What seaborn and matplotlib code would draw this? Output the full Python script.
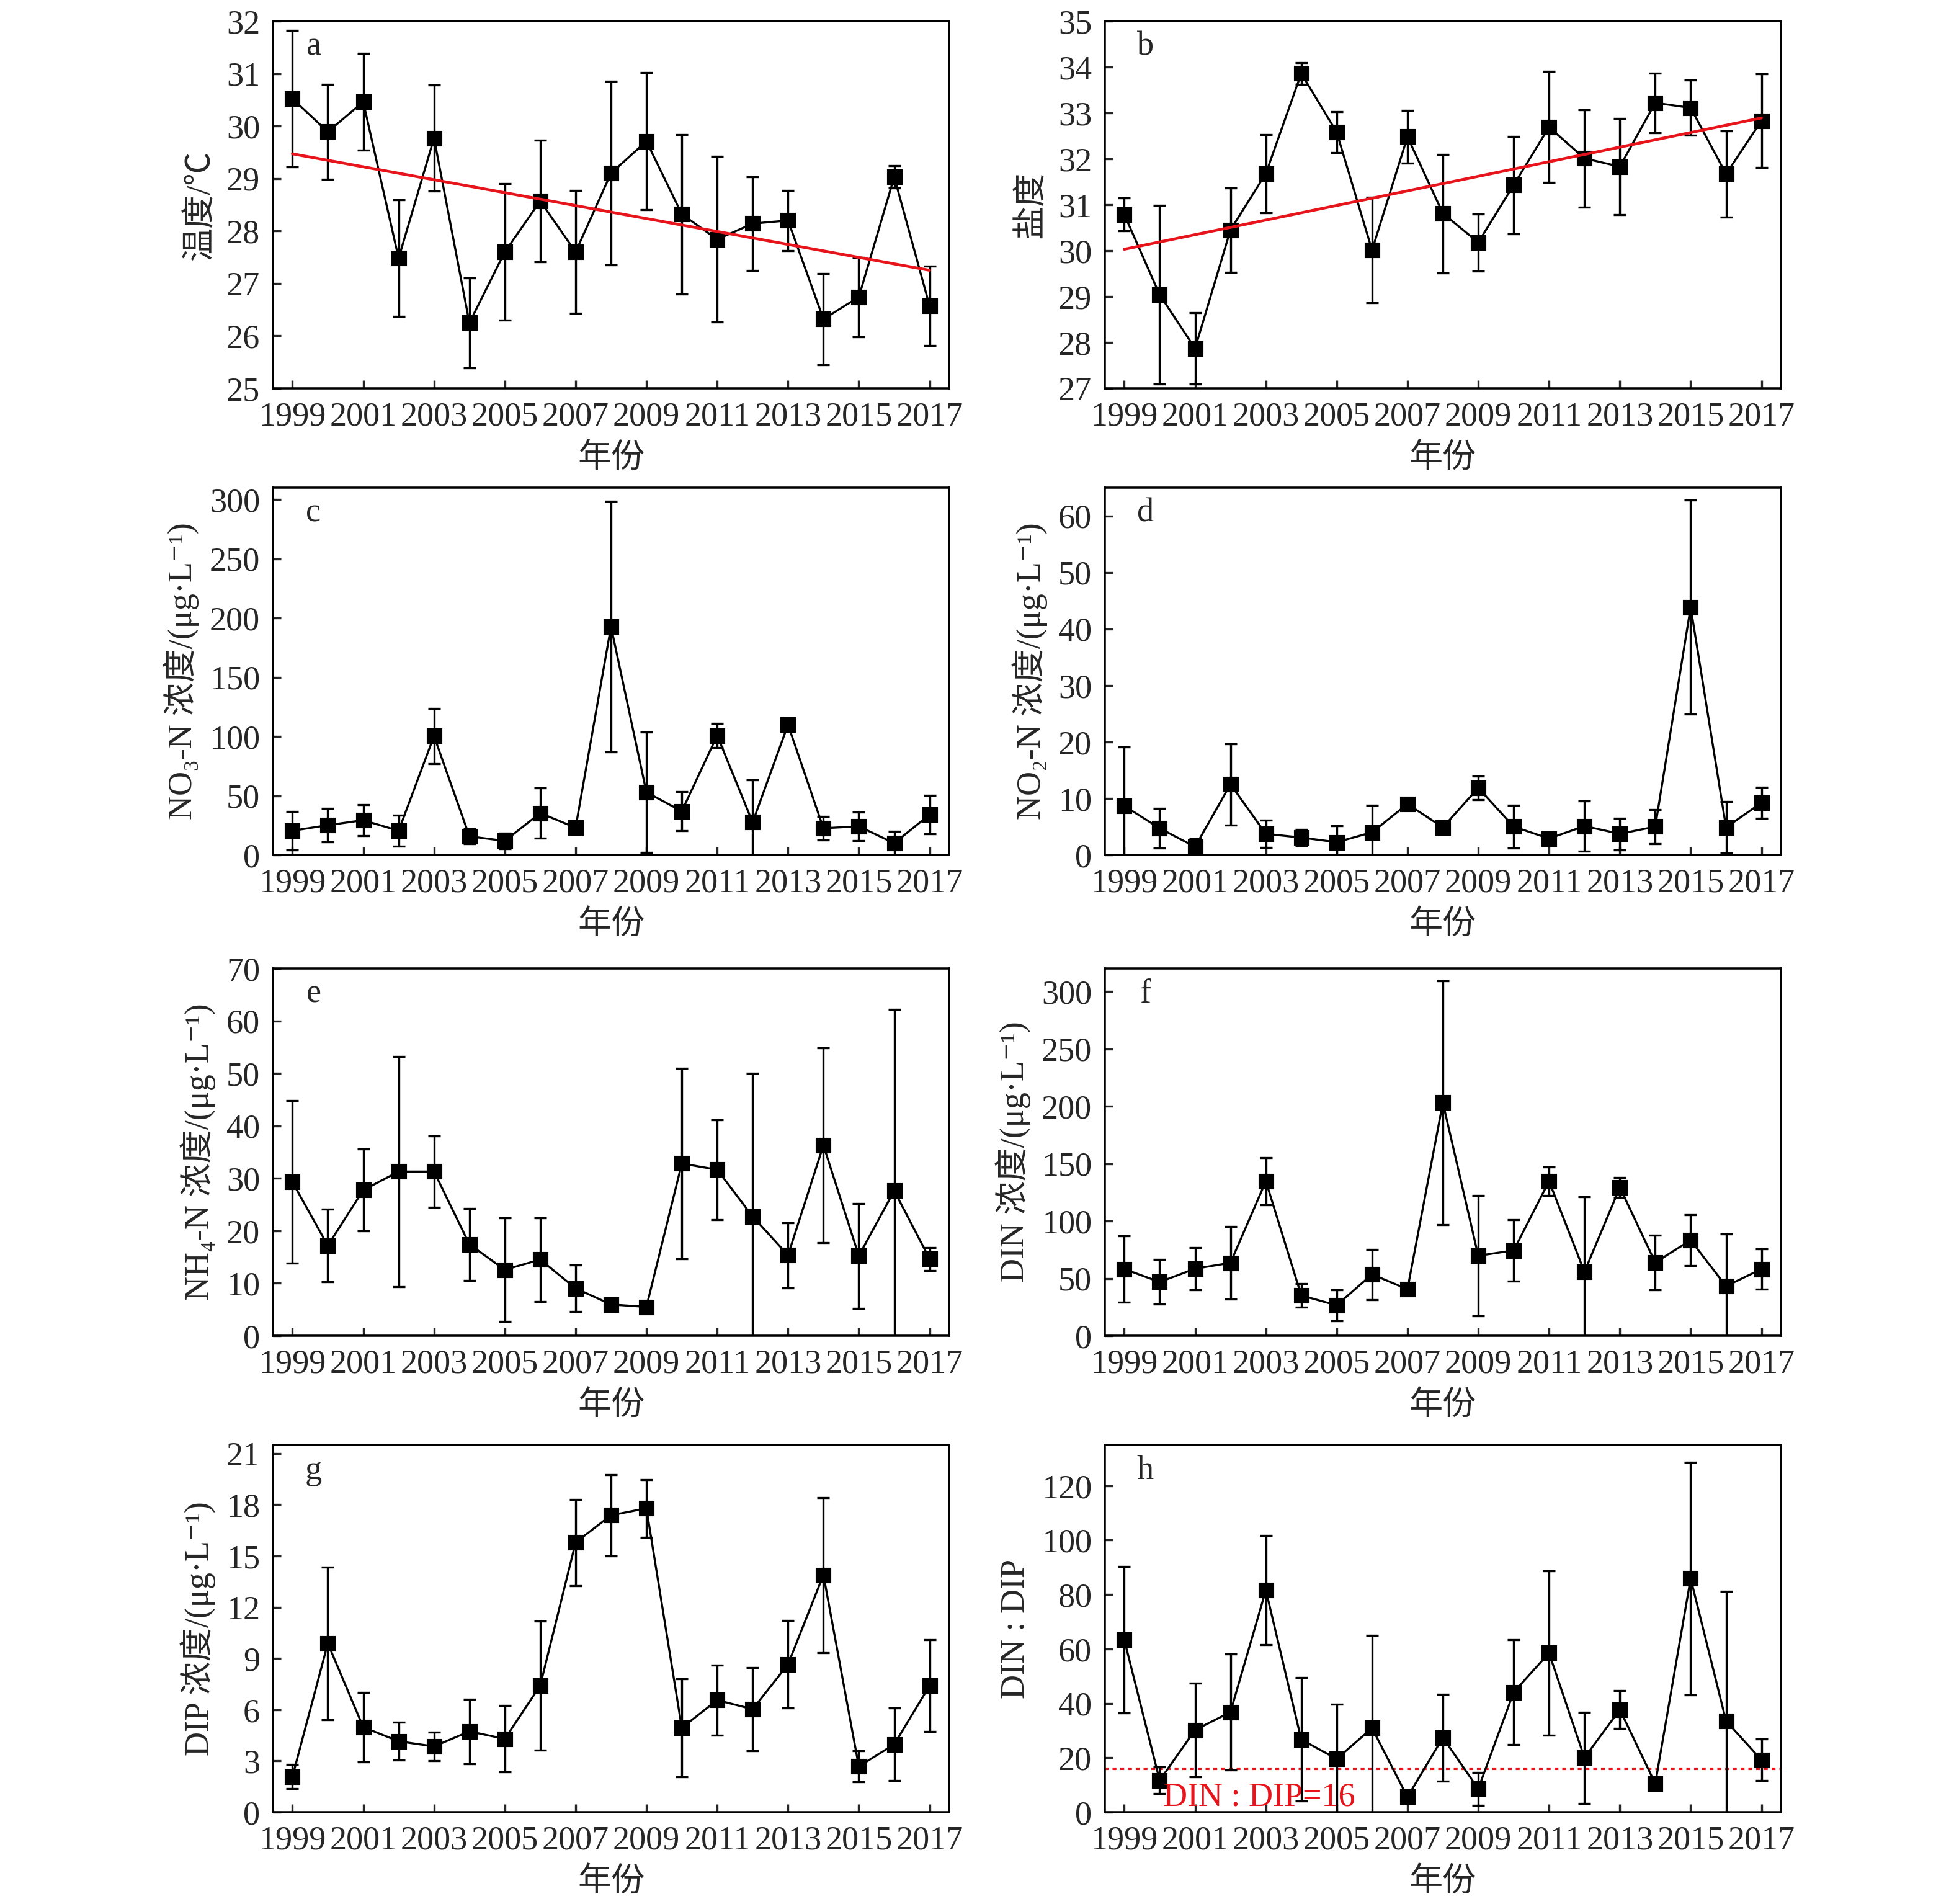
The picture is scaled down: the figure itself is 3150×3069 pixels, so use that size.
import matplotlib
matplotlib.use("Agg")
import numpy as np
import pandas as pd
import matplotlib.pyplot as plt
import seaborn as sns

# ---- data ----
years = list(range(1999, 2018))
year_ticks = list(range(1999, 2018, 2))

temp_mean = [30.52, 29.89, 30.46, 27.48, 29.77, 26.25, 27.60, 28.57, 27.60, 29.10,
             29.71, 28.32, 27.84, 28.14, 28.20, 26.32, 26.74, 29.03, 26.57]
temp_err = [1.30, 0.90, 0.92, 1.11, 1.01, 0.86, 1.30, 1.16, 1.17, 1.75,
            1.31, 1.52, 1.58, 0.89, 0.57, 0.87, 0.76, 0.21, 0.76]
temp_trend = [29.47, 27.25]

sal_mean = [30.79, 29.04, 27.87, 30.45, 31.68, 33.86, 32.58, 30.01, 32.48, 30.81,
            30.18, 31.43, 32.69, 32.01, 31.83, 33.22, 33.11, 31.67, 32.83]
sal_err = [0.36, 1.95, 0.78, 0.92, 0.85, 0.24, 0.45, 1.15, 0.58, 1.29,
           0.62, 1.06, 1.21, 1.06, 1.05, 0.65, 0.60, 0.94, 1.02]
sal_trend = [30.03, 32.89]

no3_mean = [20.4, 25.1, 29.3, 20.4, 100.3, 15.7, 11.8, 35.3, 23.0, 192.7,
            52.9, 36.9, 100.8, 27.5, 109.9, 22.5, 24.1, 9.9, 34.0]
no3_err = [16.0, 14.3, 13.2, 13.0, 23.4, 6.5, 6.5, 21.0, 3.0, 106.0,
           51.0, 16.7, 10.0, 36.0, 3.0, 9.8, 12.0, 9.8, 16.4]

no2_mean = [8.67, 4.72, 1.43, 12.5, 3.73, 3.07, 2.25, 4.0, 9.0, 4.88,
            11.86, 5.0, 2.9, 5.1, 3.73, 5.0, 43.85, 4.88, 9.22]
no2_err = [10.4, 3.5, 1.4, 7.2, 2.45, 1.4, 2.9, 4.8, 0.5, 0.5,
           2.1, 3.8, 0.6, 4.4, 2.8, 3.0, 18.9, 4.6, 2.7]

nh4_mean = [29.28, 17.18, 27.74, 31.29, 31.29, 17.41, 12.57, 14.52, 9.03, 5.96,
            5.49, 32.82, 31.64, 22.73, 15.35, 36.3, 15.23, 27.63, 14.64]
nh4_err = [15.5, 6.9, 7.8, 21.9, 6.8, 6.85, 9.9, 8.0, 4.45, 0.4,
           0.5, 18.1, 9.5, 27.3, 6.2, 18.6, 10.0, 34.6, 2.2]

din_mean = [58.1, 46.8, 58.4, 63.5, 134.6, 35.1, 26.5, 53.5, 40.5, 203.0,
            69.7, 74.3, 134.6, 55.7, 129.2, 63.8, 83.2, 43.2, 58.1]
din_err = [28.8, 19.5, 18.5, 31.8, 20.3, 10.2, 13.5, 21.9, 5.0, 106.0,
           52.5, 27.0, 12.6, 65.4, 8.4, 23.6, 22.0, 45.4, 17.5]

dip_mean = [2.08, 9.88, 4.98, 4.15, 3.85, 4.73, 4.29, 7.41, 15.79, 17.38,
            17.79, 4.94, 6.56, 6.03, 8.65, 13.89, 2.68, 3.97, 7.41]
dip_err = [0.7, 4.48, 2.03, 1.1, 0.84, 1.89, 1.94, 3.77, 2.52, 2.37,
           1.69, 2.87, 2.06, 2.44, 2.56, 4.54, 0.9, 2.12, 2.7]

ratio_mean = [63.4, 11.7, 30.2, 36.8, 81.6, 26.7, 19.6, 30.9, 5.6, 27.4,
              8.6, 44.1, 58.5, 20.0, 37.7, 10.5, 85.9, 33.5, 19.2]
ratio_err = [26.8, 4.9, 17.3, 21.3, 20.0, 22.7, 20.0, 34.0, 2.5, 15.9,
             6.0, 19.3, 30.3, 16.8, 6.9, 1.0, 42.8, 47.7, 7.6]
redfield = 16

ylabels = ["温度/℃", "盐度",
           "NO₃-N 浓度/(μg·L⁻¹)", "NO₂-N 浓度/(μg·L⁻¹)",
           "NH₄-N 浓度/(μg·L⁻¹)", "DIN 浓度/(μg·L⁻¹)",
           "DIP 浓度/(μg·L⁻¹)", "DIN : DIP"]
letters = list("abcdefgh")

sns.set_theme(style="ticks")
plt.rcParams["font.family"] = ["Liberation Serif", "Noto Sans CJK SC", "DejaVu Sans"]
plt.rcParams["axes.unicode_minus"] = False

panels = [
    (temp_mean, temp_err, (25, 32), np.arange(25, 33, 1), temp_trend),
    (sal_mean, sal_err, (27, 35), np.arange(27, 36, 1), sal_trend),
    (no3_mean, no3_err, (0, 310), np.arange(0, 301, 50), None),
    (no2_mean, no2_err, (0, 65), np.arange(0, 61, 10), None),
    (nh4_mean, nh4_err, (0, 70), np.arange(0, 71, 10), None),
    (din_mean, din_err, (0, 320), np.arange(0, 301, 50), None),
    (dip_mean, dip_err, (0, 21.5), np.arange(0, 22, 3), None),
    (ratio_mean, ratio_err, (0, 135), np.arange(0, 121, 20), None),
]

fig = plt.figure(figsize=(10.5, 10.23), dpi=300)
W, H = 3150, 3069
col_left = [440, 1781]
row_top = [34, 786, 1561, 2329]
ax_w, ax_h = 1090, 592

fs = 13
for i, (mean, err, ylim, yticks, trend) in enumerate(panels):
    r, c = divmod(i, 2)
    ax = fig.add_axes([col_left[c] / W, 1 - (row_top[r] + ax_h) / H, ax_w / W, ax_h / H])
    df = pd.DataFrame({"year": years, "value": mean, "err": err})

    ax.errorbar(df["year"], df["value"], yerr=df["err"], fmt="none",
                ecolor="black", elinewidth=0.8, capsize=2.4, capthick=0.8, zorder=2)
    sns.lineplot(data=df, x="year", y="value", ax=ax, color="black", lw=0.8,
                 marker="s", markersize=5.5, markeredgecolor="black",
                 markerfacecolor="black", zorder=3)
    if trend is not None:
        tdf = pd.DataFrame({"year": [years[0], years[-1]], "value": trend})
        sns.lineplot(data=tdf, x="year", y="value", ax=ax, color="#e8141b",
                     lw=1.1, zorder=4)
    if i == 7:
        ax.axhline(redfield, color="#e8141b", lw=1.0, ls=(0, (1.5, 1.5)), zorder=1)
        ax.text(2000.1, 2.5, "DIN : DIP=16", color="#e8141b", fontsize=fs,
                ha="left", va="baseline")

    ax.set_xlim(1998.45, 2017.55)
    ax.set_ylim(*ylim)
    ax.set_xticks(year_ticks)
    ax.set_yticks(yticks)
    ax.tick_params(direction="in", length=3.2, width=0.8, labelsize=fs, pad=5,
                   top=False, right=False)
    for sp in ax.spines.values():
        sp.set_linewidth(0.85)
        sp.set_color("black")
    ax.set_xlabel("年份", fontsize=fs, labelpad=4)
    ax.set_ylabel(ylabels[i], fontsize=fs, labelpad=4)
    ax.text(0.06, 0.93, letters[i], transform=ax.transAxes, fontsize=fs,
            ha="center", va="center")

fig.savefig("out.png", dpi=300, facecolor="white")
